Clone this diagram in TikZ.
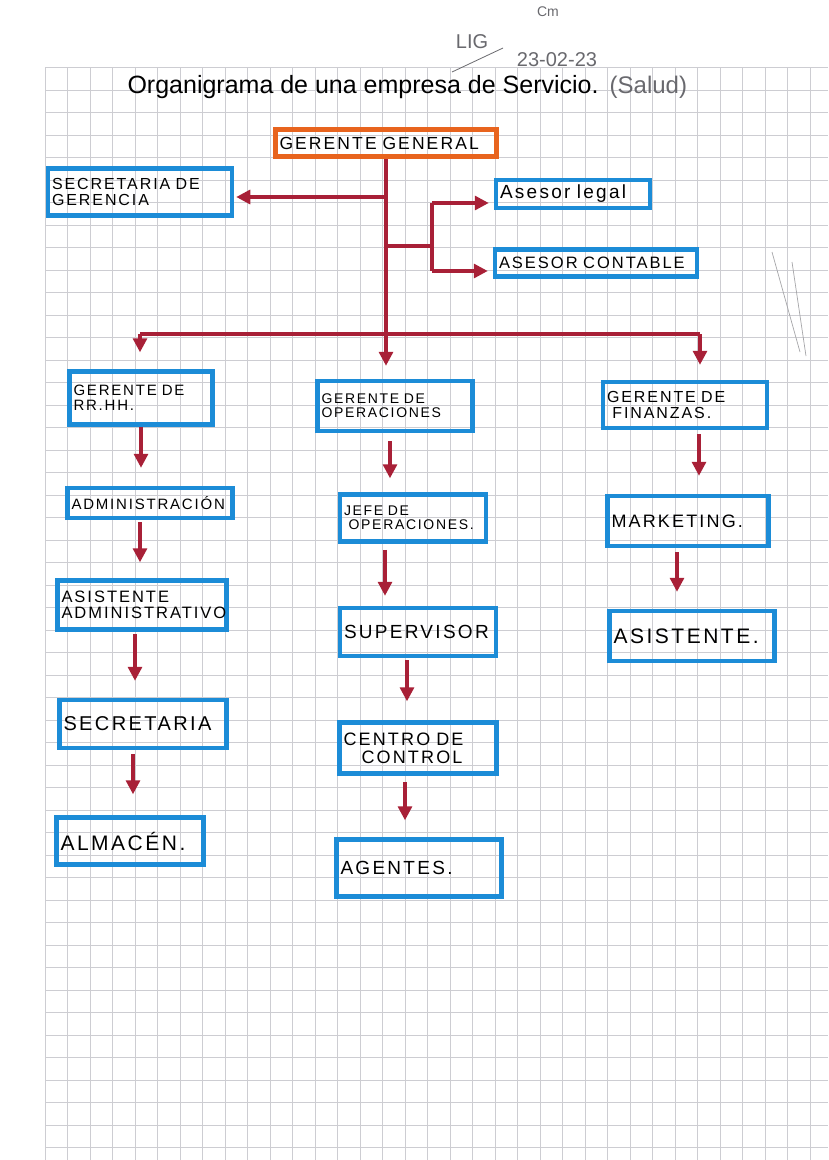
\documentclass[tikz,border=0pt]{standalone}
\usepackage{fontspec}
\setmainfont{Liberation Sans}
\newfontfamily\hand[LetterSpace=12]{Liberation Sans}
\usetikzlibrary{arrows.meta}
\definecolor{boxblue}{RGB}{28,140,215}
\definecolor{ggorange}{RGB}{232,100,30}
\definecolor{arrred}{RGB}{168,32,55}
\definecolor{gridgray}{RGB}{205,205,210}
\definecolor{pencil}{RGB}{105,105,110}
\newcommand{\fs}[1]{\fontsize{#1}{#1}\selectfont}
\begin{document}
\begin{tikzpicture}[x=1pt,y=-1pt,
  box/.style={draw=boxblue, line width=4.5pt, align=left, inner sep=4pt, font=\hand\fs{15}},
  line/.style={draw=arrred, line width=3.2pt},
  arr/.style={line, -{Triangle[length=14pt,width=14pt]}},
  gridline/.style={draw=gridgray, line width=0.7pt},
  pen/.style={text=pencil, font=\fontsize{20}{22}\selectfont}
]
\useasboundingbox (0,0) rectangle (828,1160);
\fill[white] (0,0) rectangle (828,1160);
\foreach \gx in {45,67.5,...,828} {\draw[gridline] (\gx,67.5) -- (\gx,1160);}
\foreach \gy in {67.5,90,...,1160} {\draw[gridline] (45,\gy) -- (828,\gy);}

% header
\node[anchor=base west, font=\fontsize{25}{27}\selectfont] (title) at (124,93) {Organigrama de una empresa de Servicio.};
\node[anchor=base west, text=pencil, font=\fontsize{24}{26}\selectfont] (salud) at ([xshift=4pt]title.base east) {(Salud)};
\node[pen] (date) at (557,60) {23-02-23};
\node[pen] (lig) at (472,42) {LIG};
\node[text=pencil, font=\fontsize{14}{15}\selectfont] (cm) at (548,12) {Cm};
\draw[pencil, line width=0.8pt] (452,72) -- (503,48);
\draw[pencil!60, line width=0.7pt] (772,252) -- (800,352) (792,262) -- (806,356);

% nodes
\node[box, draw=ggorange, text width=213pt, minimum height=27pt, font=\hand\fs{17.5}] (gg) at (386,143) {GERENTE GENERAL};
\node[box, text width=176pt, minimum height=47pt, font=\hand\fs{16}] (secg) at (140,192) {SECRETARIA DE\\ GERENCIA};
\node[box, text width=146pt, minimum height=28pt, font=\hand\fs{19}] (legal) at (573,194) {Asesor legal};
\node[box, text width=194pt, minimum height=27pt, font=\hand\fs{16.5}] (cont) at (596,263) {ASESOR CONTABLE};

\node[box, text width=135pt, minimum height=53pt, font=\hand\fs{15}] (rrhh) at (141,398) {GERENTE DE\\ RR.HH.};
\node[box, text width=147pt, minimum height=50pt, font=\hand\fs{14}] (gop) at (395,406) {GERENTE DE\\OPERACIONES};
\node[box, text width=156pt, minimum height=46pt, font=\hand\fs{16}] (gfin) at (685,405) {GERENTE DE\\ \ FINANZAS.};

\node[box, text width=157pt, minimum height=30pt, font=\hand\fs{15}] (admin) at (150,503) {ADMINISTRACIÓN};
\node[box, text width=138pt, minimum height=47pt, font=\hand\fs{14}] (jefe) at (413,518) {JEFE DE\\ \ OPERACIONES.};
\node[box, text width=153pt, minimum height=50pt, font=\hand\fs{18}] (mkt) at (688,521) {MARKETING.};

\node[box, text width=161pt, minimum height=49pt, font=\hand\fs{16.5}] (asad) at (142,605) {ASISTENTE\\ADMINISTRATIVO};
\node[box, text width=148pt, minimum height=48pt, font=\hand\fs{19}] (sup) at (418,632) {SUPERVISOR};
\node[box, text width=157pt, minimum height=50pt, font=\hand\fs{21}] (asis) at (692,636) {ASISTENTE.};

\node[box, text width=159pt, minimum height=48pt, font=\hand\fs{20}] (secr) at (143,724) {SECRETARIA};
\node[box, text width=149pt, minimum height=51pt, font=\hand\fs{18}] (centro) at (418,748) {CENTRO DE\\ \ \ \ CONTROL};

\node[box, text width=139pt, minimum height=47pt, font=\hand\fs{21}] (alm) at (130,841) {ALMACÉN.};
\node[box, text width=157pt, minimum height=57pt, font=\hand\fs{19}] (agentes) at (419,868) {AGENTES.};

% junction coordinates
\coordinate (hl) at (140,334);
\coordinate (hm) at (386,334);
\coordinate (hr) at (700,334);
\coordinate (s1) at (386,197);
\coordinate (b0) at (386,246);
\coordinate (b1) at (432,246);
\coordinate (bt) at (432,203);
\coordinate (bb) at (432,271);

% top connectors
\draw[arr, shorten >=13pt] (gg.south -| hm) -- (gop.north -| hm);
\draw[arr, shorten >=2pt] (s1) -- (secg.east |- s1);
\draw[line] (b0) -- (b1);
\draw[line] (bt) -- (bb);
\draw[arr, shorten >=5pt] (bt) -- (legal.west |- bt);
\draw[arr, shorten >=5pt] (bb) -- (cont.west |- bb);
\draw[line] (hl) -- (hr);
\draw[arr, shorten >=17pt] (hl) -- (rrhh.north -| hl);
\draw[arr, shorten >=15pt] (hr) -- (gfin.north -| hr);

% column x coordinates
\coordinate (c1) at (141,0);
\coordinate (c2) at (390,0);
\coordinate (c3) at (699,0);
\coordinate (c4) at (140,0);
\coordinate (c5) at (385,0);
\coordinate (c6) at (677,0);
\coordinate (c7) at (135,0);
\coordinate (c8) at (407,0);
\coordinate (c9) at (133,0);
\coordinate (c10) at (405,0);

\draw[arr, shorten >=18pt] (rrhh.south -| c1) -- (admin.north -| c1);
\draw[arr, shorten <=8pt, shorten >=14pt] (gop.south -| c2) -- (jefe.north -| c2);
\draw[arr, shorten <=4pt, shorten >=18pt] (gfin.south -| c3) -- (mkt.north -| c3);
\draw[arr, shorten <=2pt, shorten >=16pt] (admin.south -| c4) -- (asad.north -| c4);
\draw[arr, shorten <=6pt, shorten >=10pt] (jefe.south -| c5) -- (sup.north -| c5);
\draw[arr, shorten <=4pt, shorten >=17pt] (mkt.south -| c6) -- (asis.north -| c6);
\draw[arr, shorten <=2pt, shorten >=17pt] (asad.south -| c7) -- (secr.north -| c7);
\draw[arr, shorten <=2pt, shorten >=19pt] (sup.south -| c8) -- (centro.north -| c8);
\draw[arr, shorten <=4pt, shorten >=21pt] (secr.south -| c9) -- (alm.north -| c9);
\draw[arr, shorten <=6pt, shorten >=17pt] (centro.south -| c10) -- (agentes.north -| c10);
\end{tikzpicture}
\end{document}
